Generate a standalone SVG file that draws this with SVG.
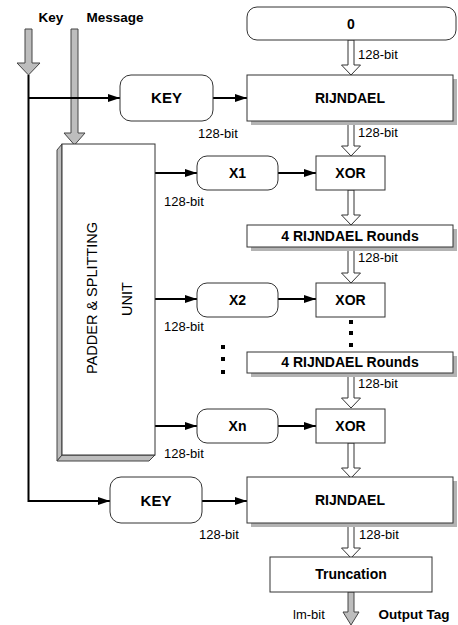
<svg xmlns="http://www.w3.org/2000/svg" width="458" height="625" viewBox="0 0 458 625">
<defs>
<style>
.box{fill:#fff;stroke:#333;stroke-width:1}
.sh{fill:#b3b3b3}
.lbl{font-family:"Liberation Sans",Arial,sans-serif;font-weight:bold;font-size:14px;fill:#000;text-anchor:middle}
.bit{font-family:"Liberation Sans",Arial,sans-serif;font-size:13px;fill:#000}
.ln{stroke:#000;stroke-width:2;fill:none}
.hol{fill:#fff;stroke:#333;stroke-width:1}
.gry{fill:#bdbdbd;stroke:#444;stroke-width:1}
</style>
<marker id="ah" markerWidth="12" markerHeight="8" refX="12" refY="4" orient="auto" markerUnits="userSpaceOnUse">
<path d="M0,0 L12,4 L0,8 Z" fill="#000"/>
</marker>
<path id="hollow" d="M-3,0 L3,0 L3,25 L9.5,25 L0,35 L-9.5,25 L-3,25 Z"/>
</defs>
<rect width="458" height="625" fill="#fff"/>

<g id="inputs">
<text class="lbl" x="51" y="22" style="font-size:13.5px">Key</text>
<text class="lbl" x="115" y="22" style="font-size:13.5px">Message</text>
<path class="gry" d="M25,29 L32,29 L32,63 L40,63 L28.5,75 L17,63 L25,63 Z"/>
<path class="gry" d="M71,29 L78,29 L78,133 L85,133 L74.5,145 L64,133 L71,133 Z"/>
</g>

<g id="connectors">
<path class="ln" d="M28.5,75 L28.5,501 L110,501" marker-end="url(#ah)"/>
<path class="ln" d="M28.5,98 L120,98" marker-end="url(#ah)"/>
<path class="ln" d="M213,98 L247,98" marker-end="url(#ah)"/>
<path class="ln" d="M202,501 L247,501" marker-end="url(#ah)"/>
<path class="ln" d="M155,173 L197,173" marker-end="url(#ah)"/>
<path class="ln" d="M155,299 L197,299" marker-end="url(#ah)"/>
<path class="ln" d="M155,426 L197,426" marker-end="url(#ah)"/>
<path class="ln" d="M278,173 L316,173" marker-end="url(#ah)"/>
<path class="ln" d="M278,299 L316,299" marker-end="url(#ah)"/>
<path class="ln" d="M278,426 L316,426" marker-end="url(#ah)"/>
<use href="#hollow" class="hol" x="351" y="40"/>
<use href="#hollow" class="hol" x="351" y="121"/>
<use href="#hollow" class="hol" x="351" y="190"/>
<use href="#hollow" class="hol" x="351" y="248"/>
<use href="#hollow" class="hol" x="351" y="373"/>
<use href="#hollow" class="hol" x="351" y="443"/>
<use href="#hollow" class="hol" x="351" y="523"/>
<path class="gry" d="M348,592 L354,592 L354,612 L359,612 L351,625 L343,612 L348,612 Z"/>
<rect x="349" y="320" width="4" height="4" fill="#000"/>
<rect x="349" y="331" width="4" height="4" fill="#000"/>
<rect x="349" y="343" width="4" height="4" fill="#000"/>
<rect x="221" y="345" width="4" height="4" fill="#000"/>
<rect x="221" y="357" width="4" height="4" fill="#000"/>
<rect x="221" y="370" width="4" height="4" fill="#000"/>
</g>

<g id="bitlabels">
<text class="bit" x="358" y="59">128-bit</text>
<text class="bit" x="198" y="138">128-bit</text>
<text class="bit" x="358" y="137">128-bit</text>
<text class="bit" x="164" y="206">128-bit</text>
<text class="bit" x="358" y="262">128-bit</text>
<text class="bit" x="164" y="331">128-bit</text>
<text class="bit" x="358" y="388">128-bit</text>
<text class="bit" x="164" y="458">128-bit</text>
<text class="bit" x="199" y="539">128-bit</text>
<text class="bit" x="359" y="539">128-bit</text>
<text class="bit" x="293" y="619">lm-bit</text>
<text class="lbl" x="414" y="619" style="font-size:13.5px">Output Tag</text>
</g>

<g id="zero">
<rect class="box" x="247" y="7" width="209" height="33" rx="10"/>
<text class="lbl" x="351" y="29">0</text>
</g>

<g id="key1">
<rect class="box" x="120" y="75" width="93" height="46" rx="11"/>
<text class="lbl" x="166.5" y="103" style="font-size:15px">KEY</text>
</g>

<g id="rijndael1">
<rect class="sh" x="251" y="79" width="206" height="46"/>
<rect class="box" x="247" y="75" width="206" height="46"/>
<text class="lbl" x="350" y="103">RIJNDAEL</text>
</g>

<g id="padder">
<path d="M62,144 L57,150 L57,461 L62,455 Z" fill="#bdbdbd" stroke="#444" stroke-width="1"/>
<path d="M62,455 L57,461 L149,461 L155,455 Z" fill="#bdbdbd" stroke="#444" stroke-width="1"/>
<rect class="box" x="62" y="144" width="93" height="311"/>
<text class="bit" style="font-size:14.5px" text-anchor="middle" transform="translate(97,298) rotate(-90)">PADDER &amp; SPLITTING</text>
<text class="bit" style="font-size:14.5px" text-anchor="middle" transform="translate(132,299) rotate(-90)">UNIT</text>
</g>

<g id="x1">
<rect class="box" x="197" y="156" width="81" height="34" rx="10"/>
<text class="lbl" x="237.5" y="178">X1</text>
</g>
<g id="xor1">
<rect class="box" x="316" y="156" width="69" height="34"/>
<text class="lbl" x="350.5" y="178">XOR</text>
</g>

<g id="rounds1">
<rect class="sh" x="251" y="229" width="206" height="22"/>
<rect class="box" x="247" y="225" width="206" height="22"/>
<text class="lbl" x="350" y="241">4 RIJNDAEL Rounds</text>
</g>

<g id="x2">
<rect class="box" x="197" y="283" width="81" height="34" rx="10"/>
<text class="lbl" x="237.5" y="305">X2</text>
</g>
<g id="xor2">
<rect class="box" x="316" y="283" width="69" height="34"/>
<text class="lbl" x="350.5" y="305">XOR</text>
</g>

<g id="rounds2">
<rect class="sh" x="251" y="356" width="206" height="21"/>
<rect class="box" x="247" y="352" width="206" height="21"/>
<text class="lbl" x="350" y="367">4 RIJNDAEL Rounds</text>
</g>

<g id="xn">
<rect class="box" x="197" y="409" width="81" height="34" rx="10"/>
<text class="lbl" x="237.5" y="431">Xn</text>
</g>
<g id="xorn">
<rect class="box" x="316" y="409" width="69" height="34"/>
<text class="lbl" x="350.5" y="431">XOR</text>
</g>

<g id="key2">
<rect class="box" x="110" y="477" width="92" height="46" rx="11"/>
<text class="lbl" x="156" y="506" style="font-size:15px">KEY</text>
</g>

<g id="rijndael2">
<rect class="sh" x="251" y="481" width="206" height="46"/>
<rect class="box" x="247" y="477" width="206" height="46"/>
<text class="lbl" x="350" y="505">RIJNDAEL</text>
</g>

<g id="truncation">
<rect class="box" x="270" y="557" width="162" height="35"/>
<text class="lbl" x="351" y="579">Truncation</text>
</g>
</svg>
